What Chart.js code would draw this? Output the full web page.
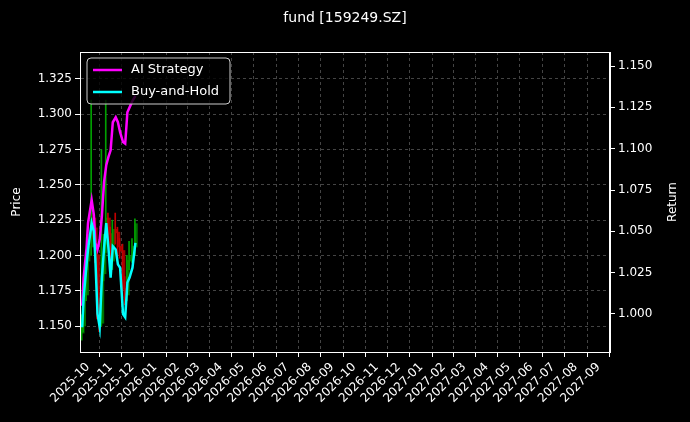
<!DOCTYPE html>
<html><head><meta charset="utf-8">
<script src="https://cdn.jsdelivr.net/npm/chart.js@4"></script>
<style>html,body{margin:0;background:#000}#c{display:block}</style>
</head><body>
<div style="width:690px;height:422px"><canvas id="c"></canvas></div>
<script>
// days relative to 2025-10-01
const days = [-8,-6,-2,0,5,8,10,13,16,19,22,25,28,31,34,38,41,44,48,51,54,57,61,65];
const aiStrategy = [1.005,1.022,1.040,1.055,1.069,1.060,1.043,1.039,1.045,1.059,1.080,1.090,1.095,1.099,1.116,1.119,1.116,1.110,1.104,1.103,1.122,1.125,1.129,1.132];
const buyHold = [0.992,1.010,1.030,1.039,1.055,1.050,1.034,1.000,0.992,1.022,1.040,1.055,1.040,1.022,1.041,1.039,1.030,1.028,1.000,0.998,1.019,1.022,1.028,1.043];
const priceOpen  = [1.145,1.150,1.172,1.196,1.206,1.226,1.219,1.200,1.162,1.152,1.187,1.208,1.226,1.215,1.196,1.218,1.216,1.206,1.203,1.176,1.172,1.196,1.199,1.206];
const priceClose = [1.150,1.172,1.196,1.206,1.226,1.219,1.200,1.162,1.152,1.187,1.208,1.226,1.215,1.196,1.218,1.216,1.206,1.203,1.176,1.172,1.196,1.199,1.206,1.222];
const priceHigh  = [1.158,1.180,1.203,1.215,1.310,1.230,1.222,1.205,1.165,1.275,1.215,1.310,1.230,1.220,1.225,1.230,1.220,1.212,1.208,1.185,1.200,1.210,1.212,1.226];
const priceLow   = [1.140,1.146,1.168,1.190,1.200,1.212,1.195,1.155,1.146,1.150,1.182,1.202,1.210,1.190,1.190,1.208,1.200,1.198,1.170,1.165,1.168,1.190,1.195,1.200];
const monthLabels = ['2025-10','2025-11','2025-12','2026-01','2026-02','2026-03','2026-04','2026-05','2026-06','2026-07','2026-08','2026-09','2026-10','2026-11','2026-12','2027-01','2027-02','2027-03','2027-04','2027-05','2027-06','2027-07','2027-08','2027-09'];

const base = Date.UTC(2025,9,1);
const monthDays = monthLabels.map(m=>{const [y,mo]=m.split('-').map(Number);return (Date.UTC(y,mo-1,1)-base)/86400000;});
const up = days.map((d,i)=>priceClose[i]>=priceOpen[i]);
const wickData = days.map((d,i)=>({x:d,y:[priceLow[i],priceHigh[i]]}));
const bodyData = days.map((d,i)=>({x:d,y:[Math.min(priceOpen[i],priceClose[i]),Math.max(priceOpen[i],priceClose[i])+0.0005]}));

const legendPlugin = {id:'lg', afterDraw(ch){
  const c=ch.ctx, a=ch.chartArea; c.save();
  c.strokeStyle='#fff'; c.lineWidth=1; c.strokeRect(a.left+0.5,a.top+0.5,a.right-a.left-1,a.bottom-a.top);
  c.fillStyle='#fff'; c.font='14px "DejaVu Sans"'; c.textAlign='center'; c.textBaseline='middle';
  c.fillText('fund [159249.SZ]',345,18);
  c.font='12px "DejaVu Sans"';
  c.save(); c.translate(17,(a.top+a.bottom)/2); c.rotate(-Math.PI/2); c.fillText('Price',0,0); c.restore();
  c.save(); c.translate(673,(a.top+a.bottom)/2); c.rotate(-Math.PI/2); c.fillText('Return',0,0); c.restore();
  c.beginPath(); c.roundRect(87,58,143,46,4); c.fillStyle='rgba(0,0,0,0.8)'; c.fill();
  c.strokeStyle='#ccc'; c.lineWidth=1; c.stroke();
  c.lineWidth=2.5;
  c.strokeStyle='#ff00ff'; c.beginPath(); c.moveTo(93,70); c.lineTo(122,70); c.stroke();
  c.strokeStyle='#00ffff'; c.beginPath(); c.moveTo(93,92); c.lineTo(122,92); c.stroke();
  c.fillStyle='#fff'; c.textAlign='left'; c.font='13px "DejaVu Sans"';
  c.fillText('AI Strategy',131,70); c.fillText('Buy-and-Hold',131,92);
  c.restore();
}};

new Chart(document.getElementById('c'),{
  data:{datasets:[
    {type:'bar',data:wickData,yAxisID:'y',barThickness:1,backgroundColor:up.map(u=>u?'#00a000':'#c00000'),order:3},
    {type:'bar',data:bodyData,yAxisID:'y',barThickness:2,backgroundColor:up.map(u=>u?'#007000':'#a00000'),order:3},
    {type:'line',data:days.map((d,i)=>({x:d,y:aiStrategy[i]})),yAxisID:'y1',borderColor:'#ff00ff',borderWidth:2.5,pointRadius:0,order:1},
    {type:'line',data:days.map((d,i)=>({x:d,y:buyHold[i]})),yAxisID:'y1',borderColor:'#00ffff',borderWidth:2.5,pointRadius:0,order:0}
  ]},
  options:{responsive:true,maintainAspectRatio:false,animation:false,
    layout:{padding:{top:52,left:0,right:0,bottom:0}},
    plugins:{legend:{display:false},tooltip:{enabled:false}},
    scales:{
      x:{type:'linear',min:-11,max:716,offset:false,
        afterBuildTicks(s){s.ticks=monthDays.map(v=>({value:v}));},
        afterFit(s){s.height=70;},
        ticks:{color:'#fff',font:{family:'DejaVu Sans',size:12},minRotation:45,maxRotation:45,autoSkip:false,
          callback(v){const i=monthDays.indexOf(v);return i>=0?monthLabels[i]:'';}},
        grid:{color:'#444',tickColor:'#fff',tickLength:5},
        border:{color:'#fff',dash:[3,3]}},
      y:{position:'left',min:1.1316,max:1.3441,
        afterBuildTicks(s){s.ticks=[1.15,1.175,1.2,1.225,1.25,1.275,1.3,1.325].map(v=>({value:v}));},
        afterFit(s){s.width=80;},
        ticks:{color:'#fff',font:{family:'DejaVu Sans',size:12},callback:v=>v.toFixed(3)},
        grid:{color:'#444',tickColor:'#fff',tickLength:5},
        border:{color:'#fff',dash:[3,3]}},
      y1:{position:'right',min:0.977,max:1.1585,
        afterBuildTicks(s){s.ticks=[1.0,1.025,1.05,1.075,1.1,1.125,1.15].map(v=>({value:v}));},
        afterFit(s){s.width=80;},
        ticks:{color:'#fff',font:{family:'DejaVu Sans',size:12},callback:v=>v.toFixed(3)},
        grid:{drawOnChartArea:false,tickColor:'#fff',tickLength:5},
        border:{color:'#fff'}}
    }},
  plugins:[legendPlugin]
});
</script>
</body></html>
